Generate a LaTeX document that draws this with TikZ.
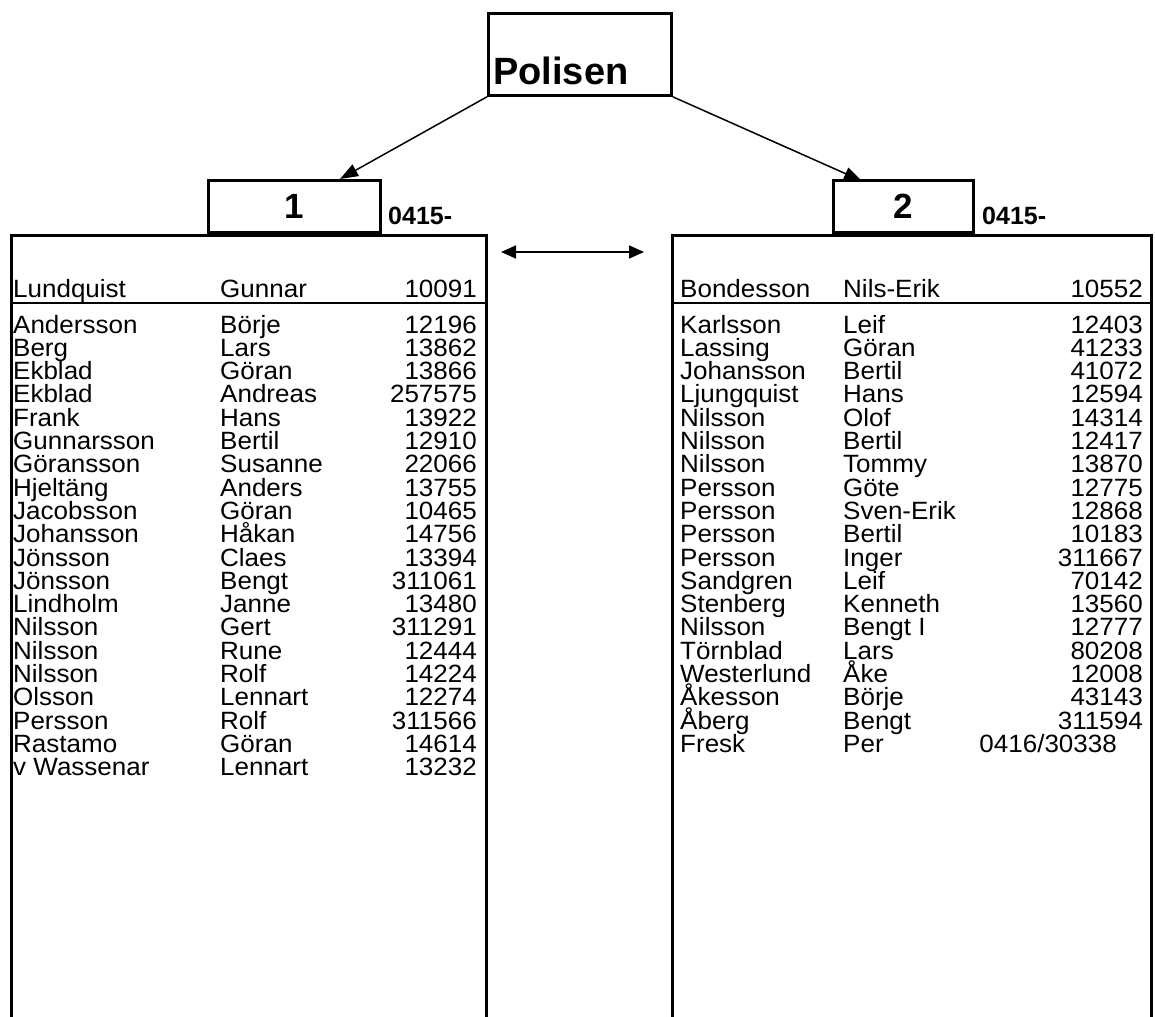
\documentclass[tikz,border=0pt]{standalone}
\usepackage{fontspec}
\setmainfont{Liberation Sans}
\newfontfamily\listfont{Liberation Sans}[FakeStretch=1.04]
\usetikzlibrary{arrows.meta,positioning}

\tikzset{
    boxline/.style={
        draw,
        line width=2.8pt,
        inner sep=0pt
    },
    entry/.style={
        inner sep=0pt,
        text height=18pt,
        text depth=5pt,
        font=\listfont\fontsize{25}{27}\selectfont
    },
    unitno/.style={
        font=\bfseries\fontsize{35}{38}\selectfont
    },
    areacode/.style={
        inner sep=0pt,
        anchor=base west,
        font=\bfseries\fontsize{25}{28}\selectfont
    }
}

\begin{document}
\begin{tikzpicture}[>={Triangle[length=18pt,width=13pt]}, x=1pt, y=-1pt]

    \useasboundingbox (0,0) rectangle (1155,1016);

    % top box
    \node[
        boxline,
        minimum width=183pt,
        minimum height=82pt,
        anchor=north west
    ] (polisen) at (487,12) {};
    \node[
        inner sep=0pt,
        anchor=base west,
        font=\bfseries\fontsize{38}{40}\selectfont
    ] (polisenlabel) at (493,85) {Polisen};

    % the two lists
    \node[
        boxline,
        minimum width=475pt,
        minimum height=900pt,
        anchor=north west
    ] (list1) at (10,234) {};
    \node[
        boxline,
        minimum width=479pt,
        minimum height=900pt,
        anchor=north west
    ] (list2) at (671,234) {};

    \draw[line width=2.8pt] ([yshift=-69pt]list1.north west) -- ([yshift=-69pt]list1.north east);
    \draw[line width=2.8pt] ([yshift=-69pt]list2.north west) -- ([yshift=-69pt]list2.north east);

    \node[
        boxline,
        unitno,
        minimum width=172pt,
        minimum height=52pt,
        anchor=south west
    ] (unit1) at (207,234) {1};
    \node[
        boxline,
        unitno,
        minimum width=140pt,
        minimum height=52pt,
        anchor=south west
    ] (unit2) at (832,234) {2};

    \node[areacode] (code1) at (388,225) {0415-};
    \node[areacode] (code2) at (982,225) {0415-};

    % arrows
    \coordinate (tip1) at (340,179);
    \coordinate (tip2) at (862,181);
    \draw[->, line width=1.5pt] (polisen.south west) -- (tip1);
    \draw[->, line width=1.5pt] (polisen.south east) -- (tip2);

    \coordinate (link1) at (501,252);
    \coordinate (link2) at (644,252);
    \draw[
        <->,
        line width=1.7pt,
        >={Triangle[length=15pt,width=13pt]}
    ] (link1) -- (link2);

    % list 1
    \node[entry, anchor=base west] (ls) at (13,297) {Lundquist};
    \node[entry, anchor=base west] (lf) at (220,297) {Gunnar};
    \node[entry, anchor=base east] (ln) at (477,297) {10091};
    \foreach \sur/\fir/\num [count=\i from 0] in {
        Andersson/Börje/12196, Berg/Lars/13862, Ekblad/Göran/13866,
        Ekblad/Andreas/257575, Frank/Hans/13922, Gunnarsson/Bertil/12910,
        Göransson/Susanne/22066, Hjeltäng/Anders/13755, Jacobsson/Göran/10465,
        Johansson/Håkan/14756, Jönsson/Claes/13394, Jönsson/Bengt/311061,
        Lindholm/Janne/13480, Nilsson/Gert/311291, Nilsson/Rune/12444,
        Nilsson/Rolf/14224, Olsson/Lennart/12274, Persson/Rolf/311566,
        Rastamo/Göran/14614, v Wassenar/Lennart/13232}
    {
        \node[entry, anchor=base west] (ls\i) at (13,{333+23.3*\i}) {\sur};
        \node[entry, anchor=base west] (lf\i) at (220,{333+23.3*\i}) {\fir};
        \node[entry, anchor=base east] (ln\i) at (477,{333+23.3*\i}) {\num};
    }

    % list 2
    \node[entry, anchor=base west] (rs) at (680,297) {Bondesson};
    \node[entry, anchor=base west] (rf) at (843,297) {Nils-Erik};
    \node[entry, anchor=base east] (rn) at (1143,297) {10552};
    \foreach \sur/\fir/\num [count=\i from 0] in {
        Karlsson/Leif/12403, Lassing/Göran/41233, Johansson/Bertil/41072,
        Ljungquist/Hans/12594, Nilsson/Olof/14314, Nilsson/Bertil/12417,
        Nilsson/Tommy/13870, Persson/Göte/12775, Persson/Sven-Erik/12868,
        Persson/Bertil/10183, Persson/Inger/311667, Sandgren/Leif/70142,
        Stenberg/Kenneth/13560, Nilsson/Bengt I/12777, Törnblad/Lars/80208,
        Westerlund/Åke/12008, Åkesson/Börje/43143, Åberg/Bengt/311594}
    {
        \node[entry, anchor=base west] (rs\i) at (680,{333+23.3*\i}) {\sur};
        \node[entry, anchor=base west] (rf\i) at (843,{333+23.3*\i}) {\fir};
        \node[entry, anchor=base east] (rn\i) at (1143,{333+23.3*\i}) {\num};
    }
    \node[entry, anchor=base west] (rs18) at (680,752.4) {Fresk};
    \node[entry, anchor=base west] (rf18) at (843,752.4) {Per};
    \node[entry, anchor=base east] (rn18) at (1117,752.4) {0416/30338};

\end{tikzpicture}
\end{document}
